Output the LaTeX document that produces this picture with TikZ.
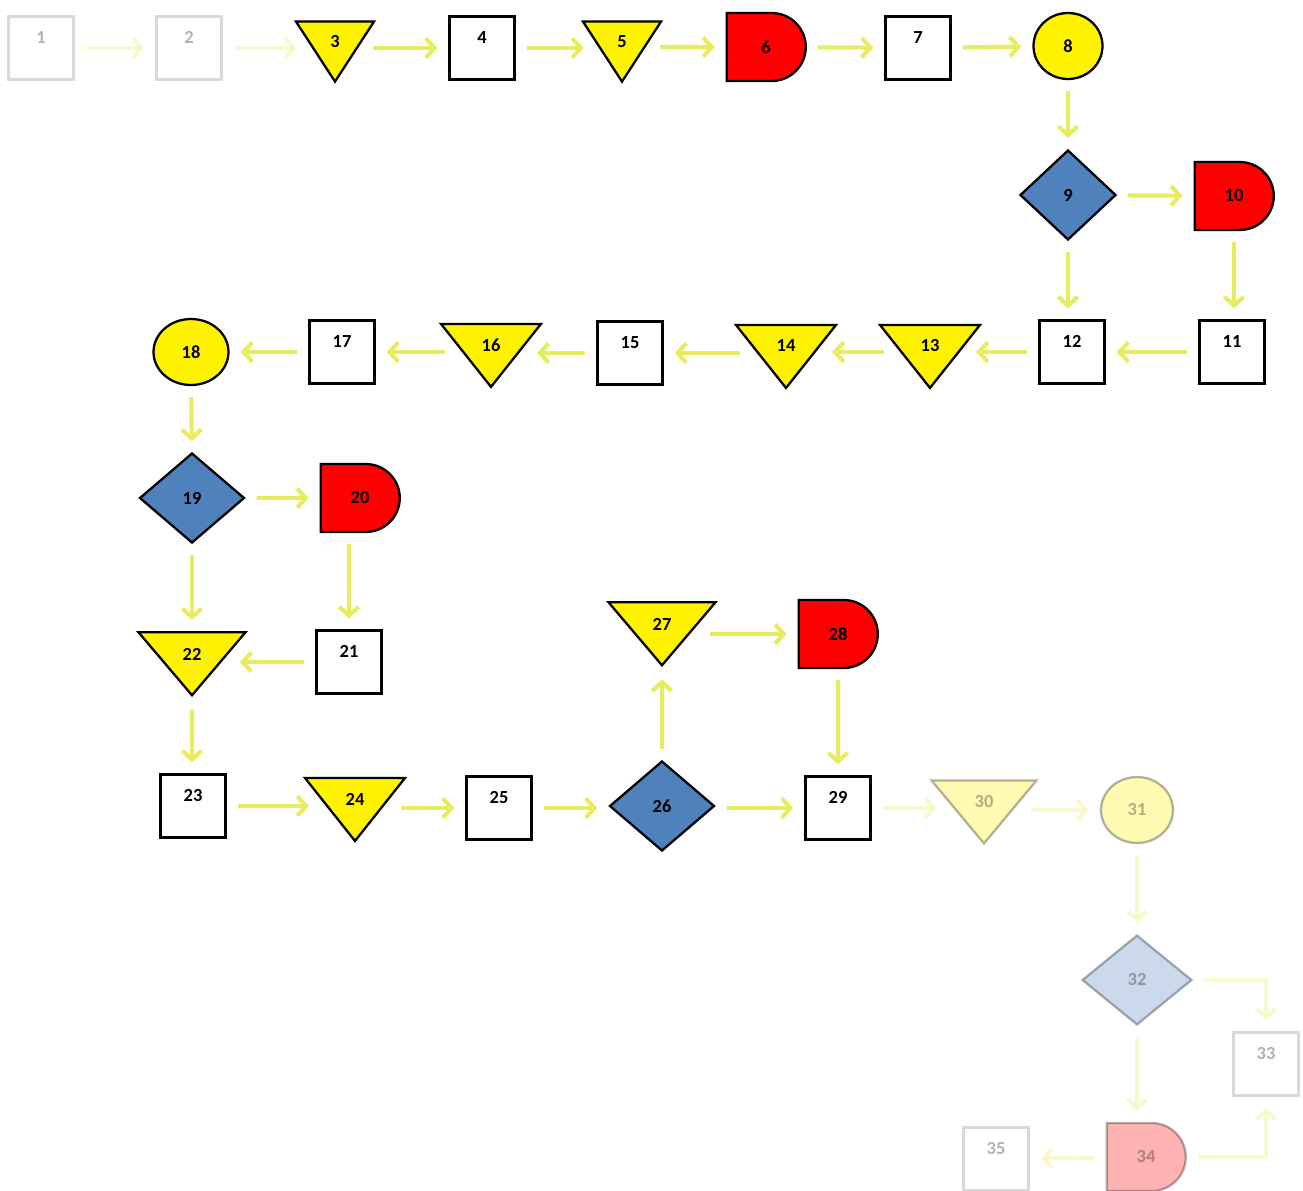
\documentclass[tikz,border=0pt]{standalone}
\usepackage{fontspec}
\setsansfont{Carlito}
\usepackage{tikz}
\usetikzlibrary{shapes.geometric, shapes.misc, arrows.meta, positioning}

\definecolor{flowyellow}{RGB}{232,236,96}
\definecolor{stepblue}{RGB}{79,129,189}

\begin{document}
\begin{tikzpicture}[x=0.02cm, y=-0.02cm,
    % Define styles for the nodes
    base_node/.style={draw=black, line width=1.3pt, inner sep=0pt, font=\sffamily\bfseries\fontsize{10.5}{11}\selectfont},
    box_node/.style={base_node, rectangle, fill=white, minimum width=1.3cm, minimum height=1.26cm, text height=0.22cm, text depth=0.4cm},
    tri_node/.style={base_node, isosceles triangle, isosceles triangle stretches, shape border rotate=270, fill=yellow, minimum width=2cm, minimum height=1.26cm},
    small_tri/.style={tri_node, minimum width=1.56cm, minimum height=1.2cm},
    delay_node/.style={base_node, rounded rectangle, rounded rectangle west arc=none, fill=red, minimum width=1.58cm, minimum height=1.36cm},
    choice_node/.style={base_node, diamond, fill=stepblue, minimum width=2.1cm, minimum height=1.8cm},
    stop_node/.style={base_node, ellipse, fill=yellow, minimum width=1.44cm, minimum height=1.32cm},
    faded/.style={opacity=0.3},
    % Styles for arrows
    flow/.style={draw=flowyellow, line width=2.4pt, -{Straight Barb[length=5pt,width=11pt]}, shorten <=0.22cm, shorten >=0.22cm}
]
    \useasboundingbox (0,0) rectangle (1303,1191);

    % =========================================================================
    % TOP ROW (left to right)
    % =========================================================================
    \node (n1) [box_node, faded, draw=gray] at (41,48) {1};
    \node (n2) [box_node, faded, draw=gray] at (189,48) {2};
    \node (n3) [small_tri] at (335,42) {3};
    \node (n4) [box_node] at (482,48) {4};
    \node (n5) [small_tri] at (622,42) {5};
    \node (n6) [delay_node] at (766,47) {6};
    \node (n7) [box_node] at (918,48) {7};
    \node (n8) [stop_node, minimum width=1.38cm] at (1068,46) {8};

    \draw [flow, faded] (n1) -- (n2);
    \draw [flow, faded] (n2) -- (n3.west |- n2);
    \draw [flow] (n3.east |- n4) -- (n4);
    \draw [flow] (n4) -- (n5.west |- n4);
    \draw [flow] (n5.east |- n6) -- (n6);
    \draw [flow] (n6) -- (n7);
    \draw [flow] (n7) -- (n8);

    % =========================================================================
    % FIRST BRANCH (9 - 12)
    % =========================================================================
    \node (n9) [choice_node, minimum width=1.92cm] at (1068,195) {9};
    \node (n10) [delay_node] at (1234,196) {10};
    \node (n11) [box_node] at (1232,352) {11};
    \node (n12) [box_node] at (1072,352) {12};

    \draw [flow] (n8) -- (n9);
    \draw [flow] (n9) -- (n10);
    \draw [flow] (n10) -- (n10 |- n11.north);
    \draw [flow] (n9) -- (n9 |- n12.north);
    \draw [flow] (n11) -- (n12);

    % =========================================================================
    % SECOND ROW (right to left)
    % =========================================================================
    \node (n13) [tri_node] at (930,346) {13};
    \node (n14) [tri_node] at (786,346) {14};
    \node (n15) [box_node] at (630,353) {15};
    \node (n16) [tri_node] at (491,345) {16};
    \node (n17) [box_node] at (342,352) {17};
    \node (n18) [stop_node, minimum width=1.5cm] at (191,352) {18};

    \draw [flow] (n12) -- (n13.east |- n12);
    \draw [flow] (n13.west |- n12) -- (n14.east |- n12);
    \draw [flow] (n14.west |- n15) -- (n15);
    \draw [flow] (n15) -- (n16.east |- n15);
    \draw [flow] (n16.west |- n17) -- (n17);
    \draw [flow] (n17) -- (n18);

    % =========================================================================
    % SECOND BRANCH (19 - 22)
    % =========================================================================
    \node (n19) [choice_node] at (192,498) {19};
    \node (n20) [delay_node] at (360,498) {20};
    \node (n21) [box_node] at (349,662) {21};
    \node (n22) [tri_node, minimum width=2.14cm] at (192,654) {22};

    \draw [flow] (n18) -- (n19);
    \draw [flow] (n19) -- (n20);
    \draw [flow] (n21 |- n20.south) -- (n21);
    \draw [flow] (n19) -- (n19 |- n22.north);
    \draw [flow] (n21) -- (n22.east |- n21);

    % =========================================================================
    % THIRD ROW AND LOOP (23 - 29)
    % =========================================================================
    \node (n23) [box_node] at (193,806) {23};
    \node (n24) [tri_node] at (355,799) {24};
    \node (n25) [box_node] at (499,808) {25};
    \node (n26) [choice_node] at (662,806) {26};
    \node (n27) [tri_node, minimum width=2.14cm] at (662,624) {27};
    \node (n28) [delay_node] at (838,634) {28};
    \node (n29) [box_node] at (838,808) {29};

    \draw [flow] (n22) -- (n22 |- n23.north);
    \draw [flow] (n23) -- (n24.west |- n23);
    \draw [flow] (n24.east |- n25) -- (n25);
    \draw [flow] (n25) -- (n26.west |- n25);
    \draw [flow] (n26) -- (n27);
    \draw [flow] (n27.east |- n28) -- (n28);
    \draw [flow] (n28) -- (n29);
    \draw [flow] (n26.east |- n29) -- (n29);

    % =========================================================================
    % FADED TAIL (30 - 35)
    % =========================================================================
    \node (n30) [tri_node, faded, minimum width=2.1cm] at (984,802) {30};
    \node (n31) [stop_node, faded] at (1137,810) {31};
    \node (n32) [choice_node, faded, minimum width=2.2cm] at (1137,980) {32};
    \node (n33) [box_node, faded, draw=gray] at (1266,1064) {33};
    \node (n34) [delay_node, faded] at (1146,1157) {34};
    \node (n35) [box_node, faded, draw=gray] at (996,1159) {35};

    \draw [flow, faded] (n29) -- (n30.west |- n29);
    \draw [flow, faded] (n30.east |- n31) -- (n31);
    \draw [flow, faded] (n31) -- (n32);
    \draw [flow, faded] (n32) -| (n33);
    \draw [flow, faded] (n32) -- (n32 |- n34.north);
    \draw [flow, faded] (n34) -| (n33);
    \draw [flow, faded] (n34) -- (n35);

\end{tikzpicture}
\end{document}
